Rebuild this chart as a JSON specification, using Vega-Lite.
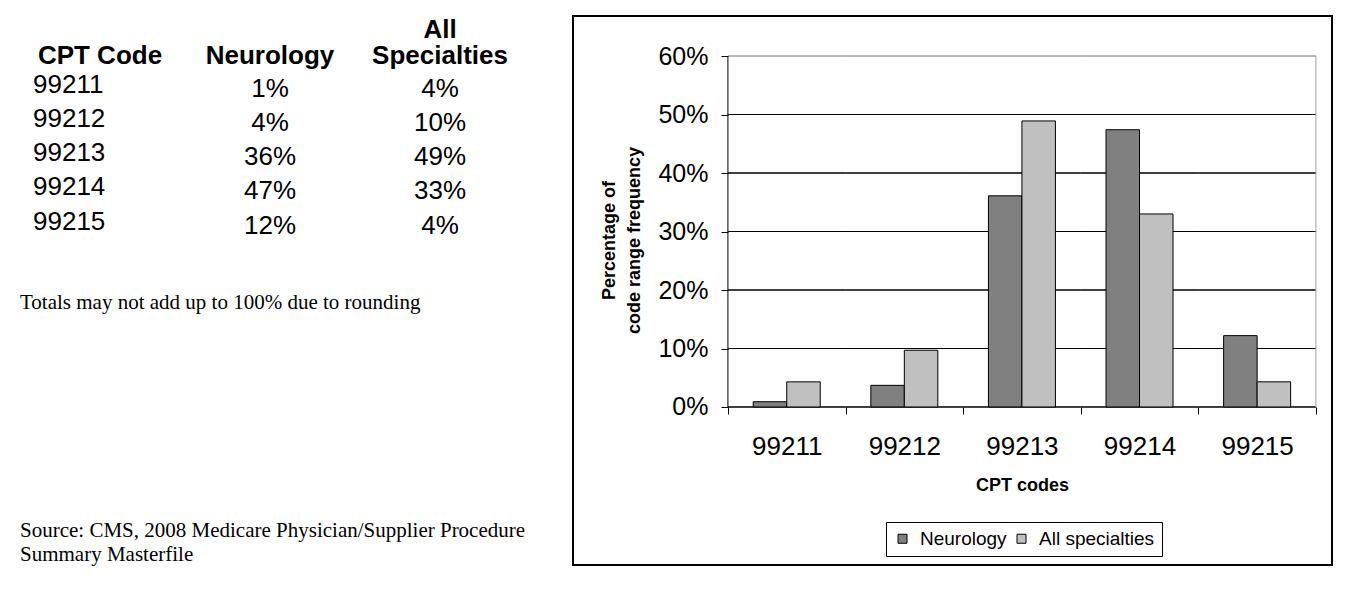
{
  "$schema": "https://vega.github.io/schema/vega-lite/v6.json",
  "background": "white",
  "padding": {"left": 15, "top": 15, "right": 0, "bottom": 0},
  "config": {"view": {"stroke": null}, "font": "Liberation Sans"},
  "spacing": 46,
  "hconcat": [
    {
      "width": 510,
      "height": 225,
      "data": {"values": [
        {"code": "99211", "neuro": 0.01, "all": 0.04},
        {"code": "99212", "neuro": 0.04, "all": 0.10},
        {"code": "99213", "neuro": 0.36, "all": 0.49},
        {"code": "99214", "neuro": 0.47, "all": 0.33},
        {"code": "99215", "neuro": 0.12, "all": 0.04}
      ]},
      "title": {
        "text": "Totals may not add up to 100% due to rounding",
        "subtitle": ["Source: CMS, 2008 Medicare Physician/Supplier Procedure", "Summary Masterfile"],
        "orient": "bottom", "anchor": "start", "frame": "group", "dx": 5, "offset": 50.5,
        "font": "Liberation Serif", "fontSize": 21, "fontWeight": "normal", "color": "black",
        "subtitleFont": "Liberation Serif", "subtitleFontSize": 21, "subtitleColor": "black",
        "subtitleLineHeight": 24, "subtitlePadding": 207
      },
      "encoding": {
        "y": {"field": "code", "type": "ordinal", "axis": null,
          "scale": {"type": "band", "paddingInner": 0, "paddingOuter": 0.78, "align": 0.96}}
      },
      "layer": [
        {
          "mark": {"type": "text", "align": "left", "baseline": "middle", "dx": -67, "fontSize": 26, "color": "black"},
          "encoding": {
            "x": {"datum": "CPT Code", "type": "nominal",
              "scale": {"type": "band", "domain": ["CPT Code", "Neurology", "All Specialties"], "paddingInner": 0, "paddingOuter": 0},
              "axis": {"orient": "top", "offset": -27, "title": null, "domain": false, "ticks": false, "tickSize": 0,
                "labelFontSize": 26, "labelFontWeight": "bold", "labelColor": "black", "labelPadding": 1,
                "labelBaseline": "bottom", "labelLineHeight": 26, "labelAngle": 0, "labelLimit": 0, "labelOverlap": false,
                "labelExpr": "datum.value == 'All Specialties' ? ['All', 'Specialties'] : ['', datum.value]"}},
            "text": {"field": "code"}
          }
        },
        {
          "mark": {"type": "text", "baseline": "middle", "dy": 4, "fontSize": 26, "color": "black"},
          "encoding": {
            "x": {"datum": "Neurology", "type": "nominal"},
            "text": {"field": "neuro", "format": ".0%"}
          }
        },
        {
          "mark": {"type": "text", "baseline": "middle", "dy": 4, "fontSize": 26, "color": "black"},
          "encoding": {
            "x": {"datum": "All Specialties", "type": "nominal"},
            "text": {"field": "all", "format": ".0%"}
          }
        }
      ]
    },
    {
      "width": 759,
      "height": 549,
      "view": {"stroke": "black", "strokeWidth": 2},
      "layer": [
        {
          "data": {"values": [
            {"code": "99211", "v": 0}, {"code": "99212", "v": 0}, {"code": "99213", "v": 0}, {"code": "99214", "v": 0}, {"code": "99215", "v": 0},
            {"code": "99211", "v": 0.1}, {"code": "99212", "v": 0.1}, {"code": "99213", "v": 0.1}, {"code": "99214", "v": 0.1}, {"code": "99215", "v": 0.1},
            {"code": "99211", "v": 0.2}, {"code": "99212", "v": 0.2}, {"code": "99213", "v": 0.2}, {"code": "99214", "v": 0.2}, {"code": "99215", "v": 0.2},
            {"code": "99211", "v": 0.3}, {"code": "99212", "v": 0.3}, {"code": "99213", "v": 0.3}, {"code": "99214", "v": 0.3}, {"code": "99215", "v": 0.3},
            {"code": "99211", "v": 0.4}, {"code": "99212", "v": 0.4}, {"code": "99213", "v": 0.4}, {"code": "99214", "v": 0.4}, {"code": "99215", "v": 0.4},
            {"code": "99211", "v": 0.5}, {"code": "99212", "v": 0.5}, {"code": "99213", "v": 0.5}, {"code": "99214", "v": 0.5}, {"code": "99215", "v": 0.5},
            {"code": "99211", "v": 0.6}, {"code": "99212", "v": 0.6}, {"code": "99213", "v": 0.6}, {"code": "99214", "v": 0.6}, {"code": "99215", "v": 0.6}
          ]},
          "mark": {"type": "rect", "filled": false, "strokeWidth": 1},
          "encoding": {
            "x": {"field": "code", "type": "nominal"},
            "y": {"field": "v", "type": "quantitative"},
            "y2": {"field": "v"},
            "stroke": {"condition": {"test": "datum.v == 0.6", "value": "#a0a0a0"}, "value": "black"}
          }
        },
        {
          "data": {"values": [
            {"code": "99211", "series": "Neurology", "value": 0.009},
            {"code": "99212", "series": "Neurology", "value": 0.037},
            {"code": "99213", "series": "Neurology", "value": 0.361},
            {"code": "99214", "series": "Neurology", "value": 0.474},
            {"code": "99215", "series": "Neurology", "value": 0.122},
            {"code": "99211", "series": "All specialties", "value": 0.043},
            {"code": "99212", "series": "All specialties", "value": 0.097},
            {"code": "99213", "series": "All specialties", "value": 0.489},
            {"code": "99214", "series": "All specialties", "value": 0.330},
            {"code": "99215", "series": "All specialties", "value": 0.043}
          ]},
          "mark": {"type": "bar", "stroke": "black", "strokeWidth": 1},
          "encoding": {
            "x": {"field": "code", "type": "nominal",
              "scale": {"type": "band", "paddingInner": 0, "paddingOuter": 0.727, "align": 0.906},
              "axis": {"orient": "bottom", "offset": -158, "domain": false, "grid": false,
                "ticks": true, "tickBand": "extent", "tickSize": 7, "tickColor": "black",
                "labelFontSize": 26, "labelColor": "black", "labelPadding": 32, "labelAngle": 0,
                "labelAlign": "center",
                "title": "CPT codes", "titleFontSize": 18, "titleFontWeight": "bold", "titleColor": "black",
                "titlePadding": 17, "titleX": 449}},
            "xOffset": {"field": "series", "type": "nominal",
              "scale": {"domain": ["Neurology", "All specialties"], "paddingInner": 0, "paddingOuter": 0.755}},
            "y": {"field": "value", "type": "quantitative",
              "scale": {"domain": [-0.2701, 0.6684], "nice": false, "zero": false},
              "axis": {"orient": "left", "offset": -155, "domain": false, "grid": false,
                "values": [0, 0.1, 0.2, 0.3, 0.4, 0.5, 0.6], "format": ".0%",
                "tickSize": 7, "tickColor": "black",
                "labelFontSize": 25, "labelColor": "black", "labelPadding": 13,
                "title": ["Percentage of", "code range frequency"], "titleFontSize": 18, "titleFontWeight": "bold",
                "titleColor": "black", "titleLineHeight": 25, "titlePadding": 14, "titleY": 224, "titleAlign": "center"}},
            "y2": {"datum": 0},
            "fill": {"field": "series", "type": "nominal",
              "scale": {"domain": ["Neurology", "All specialties"], "range": ["#808080", "#C0C0C0"]},
              "legend": {"orient": "none", "legendX": 871, "legendY": 506, "direction": "horizontal", "title": null,
                "symbolType": "square", "symbolSize": 81, "symbolStrokeColor": "black", "symbolStrokeWidth": 1,
                "labelFontSize": 19, "labelColor": "black", "labelOffset": 8, "columnPadding": 5,
                "padding": 7, "strokeColor": "black", "fillColor": "white"}}
          }
        },
        {
          "data": {"values": [{}]},
          "mark": {"type": "rule", "color": "black", "strokeWidth": 1},
          "encoding": {
            "x": {"datum": "99211", "bandPosition": 0},
            "y": {"datum": 0},
            "y2": {"datum": 0.6}
          }
        },
        {
          "data": {"values": [{}]},
          "mark": {"type": "rule", "color": "#a0a0a0", "strokeWidth": 1},
          "encoding": {
            "x": {"datum": "99215", "bandPosition": 1},
            "y": {"datum": 0},
            "y2": {"datum": 0.6}
          }
        }
      ]
    }
  ]
}
